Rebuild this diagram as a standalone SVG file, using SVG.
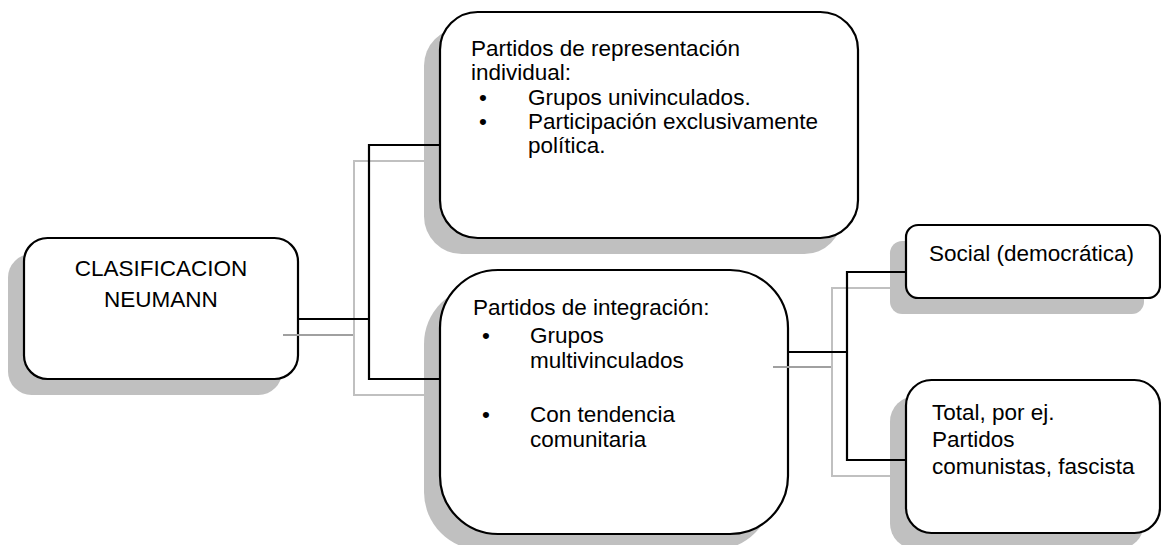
<svg xmlns="http://www.w3.org/2000/svg" width="1161" height="545" viewBox="0 0 1161 545">
<style>
.sh{fill:#c0c0c0;stroke:none}
.bx{fill:#fff;stroke:#000;stroke-width:2.2}
.t{font-family:"Liberation Sans",Arial,sans-serif;font-size:22.5px;fill:#000}
.c{fill:none;stroke:#000;stroke-width:2.2}
.g{fill:none;stroke:#c0c0c0;stroke-width:2}
.gd{fill:none;stroke:#a0a0a0;stroke-width:2}
</style>
<rect width="1161" height="545" fill="#fff"/>
<g id="shadows">
<rect class="sh" x="8" y="254" width="274" height="141" rx="23.5"/>
<rect class="sh" x="424" y="28" width="418" height="226" rx="37.7"/>
<rect class="sh" x="424" y="286" width="348" height="264" rx="58"/>
<rect class="sh" x="890" y="241" width="254" height="73" rx="12.2"/>
<rect class="sh" x="890" y="396" width="254" height="153" rx="25.5"/>
</g>
<g id="n1">
<rect class="bx" x="24" y="238" width="274" height="141" rx="23.5"/>
<text class="t" x="161" y="276" text-anchor="middle">CLASIFICACION</text>
<text class="t" x="161" y="307" text-anchor="middle">NEUMANN</text>
</g>
<g id="n2">
<rect class="bx" x="440" y="12" width="418" height="226" rx="37.7"/>
<text class="t" x="471" y="56">Partidos de representación</text>
<text class="t" x="471" y="80">individual:</text>
<text class="t" x="483" y="105" text-anchor="middle">•</text>
<text class="t" x="528" y="105">Grupos univinculados.</text>
<text class="t" x="483" y="129" text-anchor="middle">•</text>
<text class="t" x="528" y="129">Participación exclusivamente</text>
<text class="t" x="528" y="153">política.</text>
</g>
<g id="n3">
<rect class="bx" x="440" y="270" width="348" height="264" rx="58"/>
<text class="t" x="473" y="315">Partidos de integración:</text>
<text class="t" x="486" y="343" text-anchor="middle">•</text>
<text class="t" x="530" y="343">Grupos</text>
<text class="t" x="530" y="368">multivinculados</text>
<text class="t" x="486" y="422" text-anchor="middle">•</text>
<text class="t" x="530" y="422">Con tendencia</text>
<text class="t" x="530" y="447">comunitaria</text>
</g>
<g id="n4">
<rect class="bx" x="906" y="225" width="254" height="73" rx="12.2"/>
<text class="t" x="929" y="261">Social (democrática)</text>
</g>
<g id="n5">
<rect class="bx" x="906" y="380" width="254" height="153" rx="25.5"/>
<text class="t" x="932" y="420">Total, por ej.</text>
<text class="t" x="932" y="447">Partidos</text>
<text class="t" x="932" y="474">comunistas, fascista</text>
</g>
<g id="connectors">
<path class="gd" d="M283,335 H354 M773,367 H832"/>
<path class="g" d="M425,161 H354 V395 H425 M891,288 H832 V476 H891"/>
<path class="c" d="M298,319 H369 M440,145 H369 V379 H440 M788,352 H847 M906,272 H847 V460 H906"/>
</g>
</svg>
